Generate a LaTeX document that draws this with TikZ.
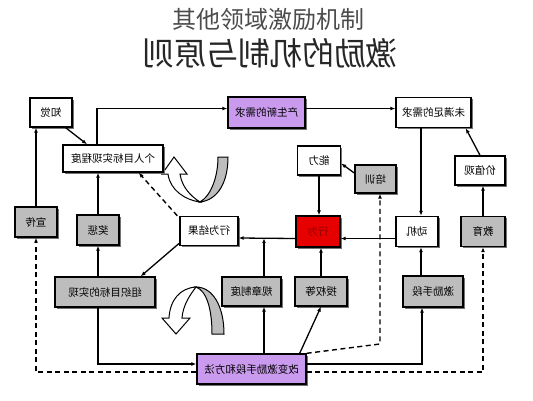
\documentclass[tikz,border=0pt]{standalone}
\usepackage{fontspec}
\usepackage{graphicx}
\setmainfont{Noto Sans CJK SC}
\usetikzlibrary{arrows.meta,shadows}
\definecolor{boxgray}{HTML}{BDBDBD}
\definecolor{boxpurple}{HTML}{C99AEE}
\definecolor{boxred}{HTML}{E60000}
\newcommand{\mirt}[1]{\reflectbox{#1}}

\begin{document}
\begin{tikzpicture}[x=1pt,y=-1pt,font=\fontsize{10.5}{12}\selectfont,
	>={Latex[length=5pt,width=4pt]},
	bx/.style={draw,line width=1.4pt,inner sep=0pt,fill=white,
		drop shadow={shadow xshift=1.5pt,shadow yshift=-1.5pt,fill=black!55,opacity=1}},
	wbx/.style={bx},
	gbx/.style={bx,fill=boxgray},
	pbx/.style={bx,fill=boxpurple},
	rbx/.style={bx,fill=boxred,text=red!55!black},
	ln/.style={line width=1.3pt,->},
	dln/.style={line width=1.4pt,->,dash pattern=on 5pt off 3.5pt}]
	\useasboundingbox (0,0) rectangle (533,400);
	\node[font=\fontsize{24}{26}\selectfont,text=black!70] (titel) at (268,19) {其他领域激励机制};
	\node[font=\fontsize{32}{34}\selectfont,text=black!85] (yuanze) at (270,53) {\mirt{激励的机制与原则}};
	% gedrehte pfeile
	\filldraw[fill=boxgray,line width=1pt] (200,202) .. controls (212,195) and (218,175) .. (218,157)
		-- (228,157) .. controls (228,182) and (218,200) .. (200,202) -- cycle;
	\filldraw[fill=white,line width=1pt] (200,202) .. controls (185,200) and (170,190) .. (168,174)
		-- (162,174) -- (174,157) -- (187,174) -- (180,174) .. controls (182,188) and (192,197) .. (200,202) -- cycle;
	\filldraw[fill=boxgray,line width=1pt] (196,287) .. controls (207,291) and (212,310) .. (212,334)
		-- (224,334) .. controls (224,305) and (212,287) .. (196,287) -- cycle;
	\filldraw[fill=white,line width=1pt] (196,287) .. controls (180,288) and (170,300) .. (169,318)
		-- (162,318) -- (176,334) -- (190,318) -- (182,318) .. controls (183,305) and (190,295) .. (196,287) -- cycle;
	\foreach \n/\x/\y/\w/\h/\s/\t in {zhijue/51/112.5/42/29/wbx/知觉,
		xinxuqiu/266.5/112.5/77/31/pbx/产生新的需求,weimanzu/433.5/112.5/75/30/wbx/未满足的需求,
		geren/113/158.5/100/27/wbx/个人目标实现程度,nengli/319/160.5/43/29/wbx/能力,
		peixun/375.5/179/41/28/gbx/培训,jiazhi/480/170.5/50/29/wbx/价值观,
		xuanchuan/36/222/42/30/gbx/宣传,jiangcheng/98/230/42/30/gbx/奖惩,
		jieguo/209/231/58/29/wbx/行为结果,xingwei/318/231.5/44/31/rbx/行为,
		dongji/417/231.5/42/30/wbx/动机,jiaoyu/483/231.5/44/30/gbx/教育,
		zuzhi/105/292/100/30/gbx/组织目标的实现,guizhang/251.5/291.5/59/29/gbx/规章制度,
		shouquan/321/291.5/52/29/gbx/授权等,jili/433/291.5/60/31/gbx/激励手段,
		gaibian/251.5/369/109/30/pbx/改变激励手段和方法}{
		\node[\s,minimum width=\w,minimum height=\h] (\n) at (\x,\y) {\mirt{\t}};
	}
	\coordinate (knick) at (380,344);
	\draw[ln] (xuanchuan.north) -- (xuanchuan.north |- zhijue.south);
	\draw[ln] ([xshift=-7pt]zhijue.south east) -- ([xshift=-26pt]geren.north);
	\draw[ln] ([xshift=-16pt]geren.north) |- ([yshift=4pt]xinxuqiu.west);
	\draw[ln] ([yshift=4pt]xinxuqiu.east) -- ([yshift=4pt]weimanzu.west);
	\draw[ln] ([xshift=-12.5pt]weimanzu.south) -- ([xshift=4pt]dongji.north);
	\draw[ln] (jiazhi.north) -- ([xshift=-6pt]weimanzu.south east);
	\draw[ln] (jiaoyu.north) -- (jiaoyu.north |- jiazhi.south);
	\draw[ln] ([yshift=-7pt]dongji.west) -- ([yshift=-7pt]xingwei.east);
	\draw[ln] ([yshift=-7pt]xingwei.west) -- coordinate[pos=0.55] (hui) ([yshift=-7pt]jieguo.east);
	\draw[ln] ([xshift=12.5pt]guizhang.north) -- ([xshift=12.5pt]guizhang.north |- hui);
	\draw[ln] ([xshift=12.5pt]gaibian.north) -- ([xshift=12.5pt]gaibian.north |- guizhang.south);
	\draw[ln] (nengli.south) -- (nengli.south |- xingwei.north);
	\draw[ln] ([yshift=6pt]peixun.west) -- ([yshift=-3pt]nengli.east);
	\draw[ln] (shouquan.north) -- (shouquan.north |- xingwei.south);
	\draw[ln] ([xshift=-7pt]gaibian.north east) -- (shouquan.south);
	\draw[ln] ([yshift=3pt]jieguo.south west) -- ([xshift=-15pt]zuzhi.north east);
	\draw[ln] (zuzhi.north -| jiangcheng.south) -- (jiangcheng.south);
	\draw[ln] (jiangcheng.north) -- (jiangcheng.north |- geren.south);
	\draw[ln] (zuzhi.south -| jiangcheng.south) |- ([yshift=5pt]gaibian.west);
	\draw[ln] ([yshift=5pt]gaibian.east) -| ([xshift=-11pt]jili.south);
	\draw[ln] ([xshift=-12pt]jili.north) -- ([xshift=4pt]dongji.south);
	\draw[dln] ([yshift=-3pt]gaibian.west) -| (xuanchuan.south);
	\draw[dln] ([yshift=-3pt]gaibian.east) -| (jiaoyu.south);
	\draw[dln] (gaibian.north east) -- (knick) -- ([xshift=4.5pt]peixun.south);
	\draw[dln] ([xshift=-2pt]jieguo.north west) -- ([xshift=-25pt]geren.south east);
\end{tikzpicture}
\end{document}
